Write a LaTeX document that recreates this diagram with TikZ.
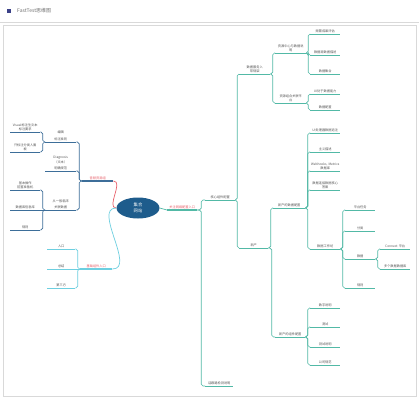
\documentclass[tikz,border=0pt]{standalone}
\usepackage{fontspec}
\newfontfamily\cjk{Noto Sans CJK SC}
\usetikzlibrary{calc,shapes.geometric}
\definecolor{tealc}{HTML}{52B9A6}
\definecolor{blueu}{HTML}{3D6E99}
\definecolor{cyanu}{HTML}{6DCFE0}
\definecolor{redt}{HTML}{E8606A}
\definecolor{ctr}{HTML}{1E5C8C}
\definecolor{txt}{HTML}{555555}
\newcommand\mn[7]{%
 \node[lbl,text width=#3pt,anchor=south west,#6] (#1) at (#2,#4) {#5};
 \draw[#7] (#1.south west) -- (#1.south east);}
\newcommand\conR[3]{\draw[#3] (#1.south east) -| ($(#1.south east)!.5!(#2.south west)$) |- (#2.south west);}
\newcommand\conL[3]{\draw[#3] (#1.south west) -| ($(#1.south west)!.5!(#2.south east)$) |- (#2.south east);}
\begin{document}
\begin{tikzpicture}[x=1pt,y=-1pt,
 lbl/.style={inner xsep=0pt,inner ysep=0.9pt,align=center,font=\cjk\fontsize{3.2}{4.4}\selectfont,text=txt},
 lone/.style={text=redt},
 ulT/.style={draw=tealc,line width=0.8pt},
 ulTa/.style={draw=tealc,line width=1.3pt},
 ulB/.style={draw=blueu,line width=0.8pt},
 ulBa/.style={draw=blueu,line width=1.3pt},
 ulC/.style={draw=cyanu,line width=0.8pt},
 ulCa/.style={draw=cyanu,line width=1.3pt},
 cT/.style={draw=tealc,line width=0.6pt,rounded corners=1.8pt},
 cB/.style={draw=blueu,line width=0.6pt,rounded corners=1.8pt},
 cC/.style={draw=cyanu,line width=0.6pt,rounded corners=1.8pt},
 frame/.style={draw=black!15,line width=0.6pt}]
\fill[white] (0,0) rectangle (419,400);
\useasboundingbox (0,0) rectangle (419,400);
% header and frame
\fill[ctr!70!violet] (7,9) rectangle (11,13);
\node[anchor=west,inner sep=0,font=\cjk\fontsize{5}{6}\selectfont,text=black!55] (title) at (17,11) {FastTest思维图};
\draw[frame] (0,22) -- (419,22);
\draw[frame] (3,25) rectangle (416,396);
% root
\node[ellipse,fill=ctr,minimum width=43pt,minimum height=21pt,inner sep=0,align=center,text=white,font=\cjk\fontsize{4.3}{5.4}\selectfont] (root) at (138,208) {集合\\网站};
% ---------- left upper ----------
\mn{la}{82}{31}{181}{音频资源组}{lone}{ulBa}
\mn{a}{45}{31}{142}{编辑\\[3pt]标注准则}{}{ulB}
\mn{aa}{10}{30}{132}{Visual标注生文本\\标注要求}{}{ulB}
\mn{ab}{10}{30}{152}{只标注分类人面\\板}{}{ulB}
\mn{b}{45}{31}{171}{Diagnosis\\（文本）\\[2pt]明确规范}{}{ulB}
\mn{c}{45}{31}{210}{从一般临床\\[2pt]关联数据}{}{ulB}
\mn{ca}{10}{30}{190}{基本操作\\前置准备机}{}{ulB}
\mn{cb}{10}{30}{210}{数据库信息库}{}{ulB}
\mn{cc}{10}{30}{230}{规则}{}{ulB}
\draw[draw=redt,line width=0.7pt] (la.south east) to[out=0,in=180] (root.west);
\conL{la}{a}{cB}
\conL{la}{b}{cB}
\conL{la}{c}{cB}
\conL{a}{aa}{cB}
\conL{a}{ab}{cB}
\conL{c}{ca}{cB}
\draw[cB] (c.south west) -- (cb.south east);
\conL{c}{cc}{cB}
% ---------- left lower ----------
\mn{lb}{80}{32}{269}{基础组件入口}{lone}{ulCa}
\mn{da}{47}{28}{249}{入口}{}{ulC}
\mn{db}{47}{28}{269}{总结}{}{ulC}
\mn{dc}{47}{28}{288}{第三方}{}{ulC}
\draw[draw=cyanu,line width=0.7pt] (root.west) to[out=180,in=0] (lb.south east);
\conL{lb}{da}{cC}
\draw[cC] (lb.south west) -- (db.south east);
\conL{lb}{dc}{cC}
% ---------- right ----------
\mn{r}{167}{30}{210}{关注网络配置入口}{lone}{ulTa}
\draw[draw=tealc,line width=0.7pt] (root.east) -- (r.south west);
\mn{r1}{205}{30}{200}{核心组件配置}{}{ulT}
\mn{r2}{205}{28}{386}{话跟路检测说明}{}{ulT}
\conR{r}{r1}{cT}
\conR{r}{r2}{cT}
\mn{s}{239}{31}{74}{数据服务入\\常规架}{}{ulT}
\mn{n}{239}{29}{248}{新产}{}{ulT}
\conR{r1}{s}{cT}
\conR{r1}{n}{cT}
\mn{sa}{275}{31}{53}{资源中心与数据说\\明}{}{ulT}
\mn{sb}{275}{31}{103}{资源组合关联平\\台}{}{ulT}
\conR{s}{sa}{cT}
\conR{s}{sb}{cT}
\mn{saa}{310}{30}{34}{频繁成果评估}{}{ulT}
\mn{sab}{310}{30}{55}{数据源数据描述}{}{ulT}
\mn{sac}{310}{30}{74}{数据集合}{}{ulT}
\conR{sa}{saa}{cT}
\conR{sa}{sab}{cT}
\conR{sa}{sac}{cT}
\mn{sba}{310}{30}{94}{UI处于数据能力}{}{ulT}
\mn{sbb}{310}{30}{110}{数据配置}{}{ulT}
\conR{sb}{sba}{cT}
\conR{sb}{sbb}{cT}
\mn{na}{273}{32}{208}{新产的数据配置}{}{ulT}
\mn{nb}{275}{30}{337}{新产的组件配置}{}{ulT}
\conR{n}{na}{cT}
\conR{n}{nb}{cT}
\mn{naa}{310}{30}{133}{UI处理器数据追注}{}{ulT}
\mn{nab}{310}{30}{152}{主义描述}{}{ulT}
\mn{nac}{310}{30}{171}{Webhooks, Metrics\\数据库}{}{ulT}
\mn{nad}{310}{30}{190}{数据连接数据核心\\答案}{}{ulT}
\mn{nae}{310}{30}{249}{数据工作坊}{}{ulT}
\conR{na}{naa}{cT}
\conR{na}{nab}{cT}
\conR{na}{nac}{cT}
\conR{na}{nad}{cT}
\conR{na}{nae}{cT}
\mn{w1}{345}{30}{210}{平台任务}{}{ulT}
\mn{w2}{345}{30}{231}{分类}{}{ulT}
\mn{w3}{345}{30}{259}{数据}{}{ulT}
\mn{w4}{345}{30}{288}{规则}{}{ulT}
\conR{nae}{w1}{cT}
\conR{nae}{w2}{cT}
\conR{nae}{w3}{cT}
\conR{nae}{w4}{cT}
\mn{w3a}{380}{30}{249}{Connect 平台}{}{ulT}
\mn{w3b}{380}{30}{269}{多个数据数据库}{}{ulT}
\conR{w3}{w3a}{cT}
\conR{w3}{w3b}{cT}
\mn{nba}{310}{30}{308}{数字说明}{}{ulT}
\mn{nbb}{310}{30}{327}{测试}{}{ulT}
\mn{nbc}{310}{30}{347}{测试说明}{}{ulT}
\mn{nbd}{310}{30}{365}{公司规范}{}{ulT}
\conR{nb}{nba}{cT}
\conR{nb}{nbb}{cT}
\conR{nb}{nbc}{cT}
\conR{nb}{nbd}{cT}
\end{tikzpicture}
\end{document}
